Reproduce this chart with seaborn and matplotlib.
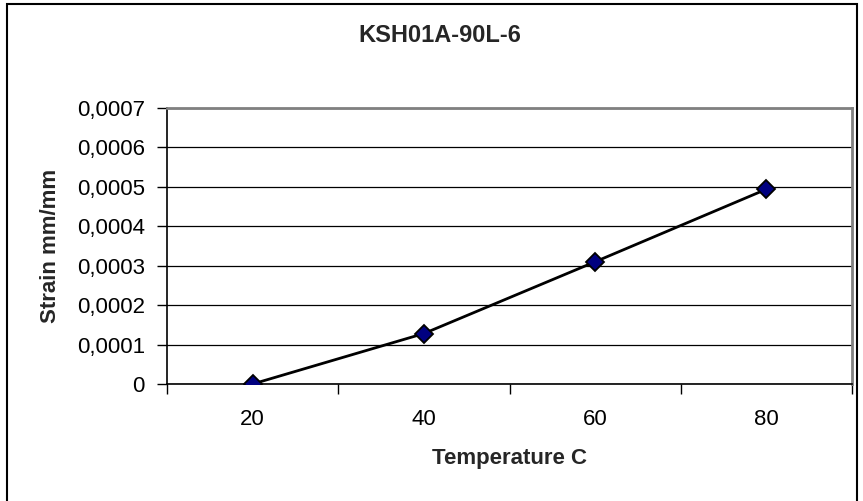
import matplotlib
matplotlib.use("Agg")
import matplotlib.pyplot as plt
import seaborn as sns
import pandas as pd
from matplotlib.ticker import FixedLocator
from matplotlib.patches import Rectangle

# ---- data ----
temperatures = ["20", "40", "60", "80"]
strain = [0.0, 0.000128, 0.000310, 0.000494]
ytick_values = [0, 0.0001, 0.0002, 0.0003, 0.0004, 0.0005, 0.0006, 0.0007]
ytick_labels = ["0", "0,0001", "0,0002", "0,0003", "0,0004", "0,0005", "0,0006", "0,0007"]
title = "KSH01A-90L-6"
xlabel = "Temperature C"
ylabel = "Strain mm/mm"

sns.set_theme(style="white")
plt.rcParams["font.family"] = ["Liberation Sans", "DejaVu Sans"]

df = pd.DataFrame({"Temperature": temperatures, "Strain": strain})

W, H = 863, 501
fig = plt.figure(figsize=(W / 100, H / 100), dpi=100)
fig.patch.set_facecolor("white")

left, right, top, bottom = 167, 852, 108, 384
ax = fig.add_axes([left / W, 1 - bottom / H, (right - left) / W, (bottom - top) / H])

# gridlines first
ax.set_axisbelow(True)
ax.yaxis.grid(True, color="black", linewidth=0.9)
ax.xaxis.grid(False)

sns.lineplot(data=df, x="Temperature", y="Strain", ax=ax, sort=False,
             color="black", linewidth=2.0, marker="D", markersize=9,
             markerfacecolor="#000080", markeredgecolor="black", markeredgewidth=1.3,
             zorder=5)

ax.set_xlim(-0.5, len(temperatures) - 0.5)
ax.set_ylim(0, 0.0007)

ax.set_yticks(ytick_values)
ax.set_yticklabels(ytick_labels)
ax.set_xticks(range(len(temperatures)))
ax.set_xticklabels(temperatures)
ax.xaxis.set_minor_locator(FixedLocator([i - 0.5 for i in range(len(temperatures) + 1)]))

ax.tick_params(axis="x", which="major", length=0, pad=18, labelsize=16, colors="black")
ax.tick_params(axis="x", which="minor", length=7, width=1.0, direction="out", color="black", bottom=True)
ax.tick_params(axis="y", which="major", length=7, width=1.0, direction="out", pad=9,
               labelsize=16, colors="black", left=True)

ax.set_xlabel(xlabel, fontsize=16, fontweight="bold", labelpad=13)
ax.set_ylabel(ylabel, fontsize=16, fontweight="bold", labelpad=11)

for side in ["left", "bottom"]:
    ax.spines[side].set_color("black")
    ax.spines[side].set_linewidth(1.2)
for side in ["top", "right"]:
    ax.spines[side].set_visible(True)
    ax.spines[side].set_color("#808080")
    ax.spines[side].set_linewidth(2.0)

fig.text(440 / W, 1 - 35 / H, title, ha="center", va="center",
         fontsize=17, fontweight="bold")

# outer chart border
fig.patches.append(Rectangle((7 / W, -0.01), (857 - 7) / W, 1 - 4 / H + 0.01,
                             transform=fig.transFigure, fill=False,
                             edgecolor="black", linewidth=1.5))

fig.savefig("out.png", dpi=100)
